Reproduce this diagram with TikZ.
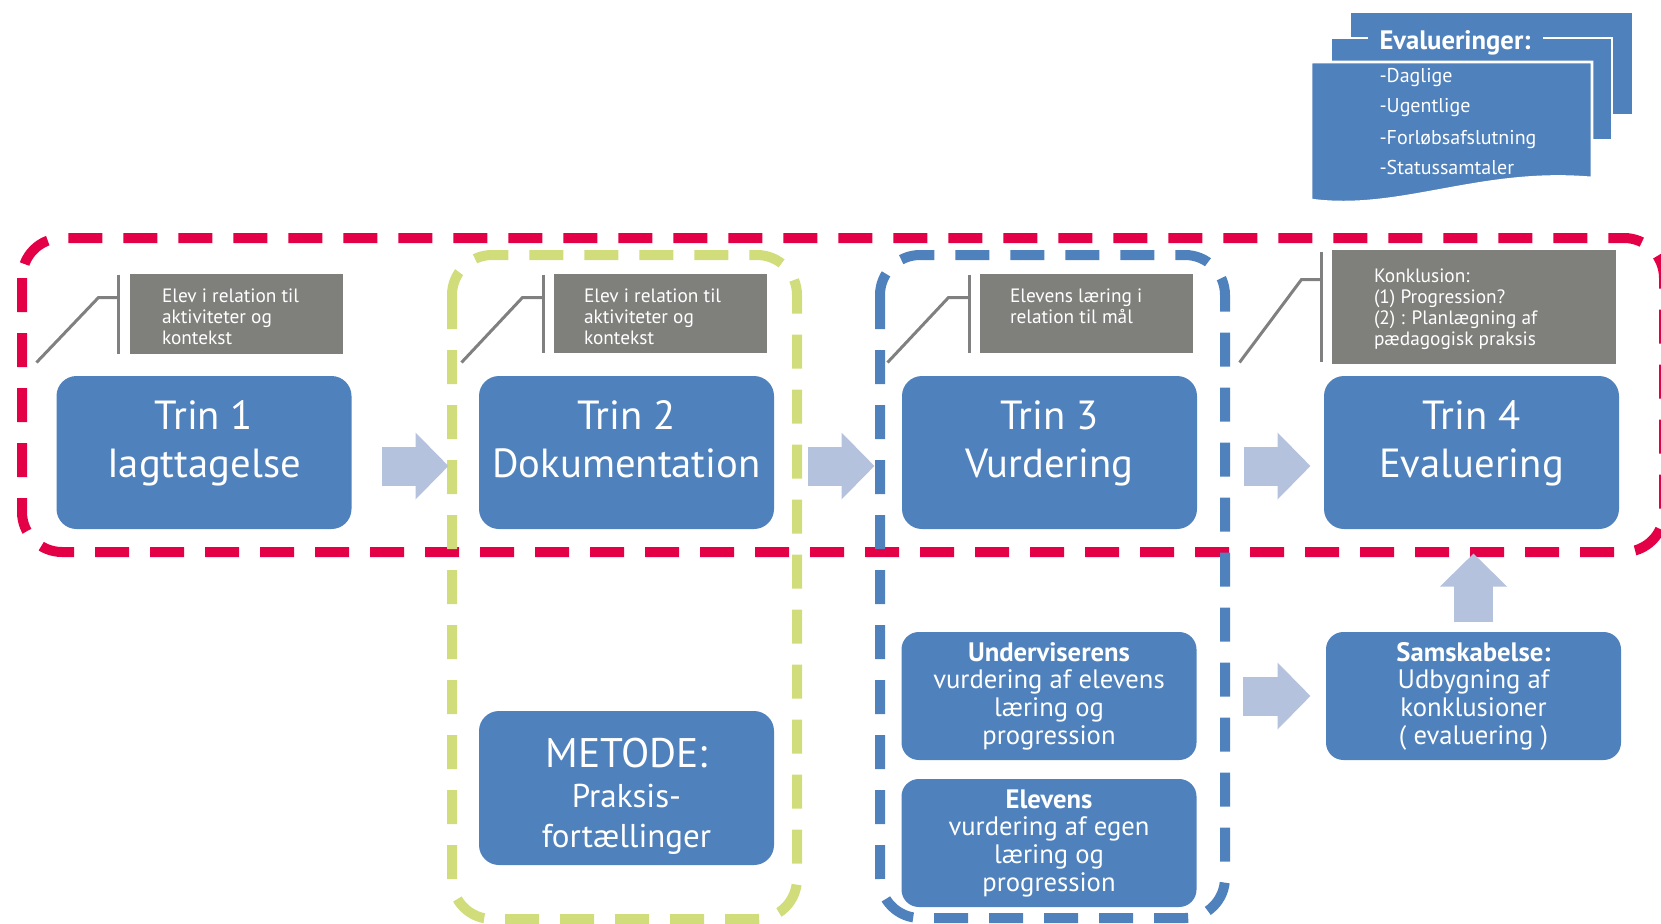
\documentclass[tikz,border=0pt]{standalone}
\usepackage{fontspec}
\setmainfont{PT Sans}
\usetikzlibrary{arrows.meta,calc}

\definecolor{boxblue}{RGB}{79,129,189}
\definecolor{notegray}{RGB}{127,128,124}
\definecolor{linegray}{RGB}{128,128,128}
\definecolor{arrowblue}{RGB}{180,194,222}
\definecolor{framered}{RGB}{228,0,70}
\definecolor{framegreen}{RGB}{209,220,122}

\tikzset{every picture/.style={line width=0.75pt}}
\tikzset{
  dashframe/.style={line width=7.5pt, rounded corners=30pt, dash pattern=on 25.5pt off 15.75pt},
  blockbase/.style={fill=boxblue, text=white, align=center, inner sep=0pt, minimum width=221.25pt},
  trinbox/.style={blockbase, rounded corners=15pt, minimum height=114.75pt,
    font=\fontsize{30.5}{36}\selectfont, execute at end node={\rule[-20.5pt]{0pt}{0pt}}},
  metodebox/.style={blockbase, rounded corners=15pt, minimum height=115.5pt,
    font=\fontsize{24.75}{30}\selectfont},
  smallbox/.style={blockbase, rounded corners=13pt, minimum height=96pt,
    font=\fontsize{20}{20.75}\selectfont},
  notebox/.style={fill=notegray, inner sep=0pt},
  notetext/.style={text=white, align=left, inner sep=0pt, anchor=north west,
    font=\fontsize{14.5}{15.75}\selectfont},
  noteline/.style={draw=linegray, line width=2.25pt},
  blockarrow/.style={draw=arrowblue, line width=29.25pt, -{Triangle[length=24.75pt,width=48.75pt]}},
  docpage/.style={fill=boxblue, draw=white, line width=2pt},
  evaltext/.style={text=white, inner sep=0pt, anchor=base west, font=\fontsize{15}{18}\selectfont}
}

\begin{document}
\begin{tikzpicture}[x=0.75pt,y=0.75pt,yscale=-1,xscale=1]
\path[use as bounding box] (0,0) rectangle (1661,924);

%Shape: Document stack
\draw[docpage] (1350,12) rectangle (1633,115);
\draw[docpage] (1331,38) rectangle (1612,140);
\draw[docpage] (1311,62) -- (1592,62) -- (1592,178) .. controls (1480,168) and (1400,212) .. (1311,200) -- cycle;
% Text Node
\node[evaltext, font=\fontsize{20}{22}\selectfont\bfseries, fill=boxblue, inner xsep=9pt, inner ysep=2pt] (evtitle) at (1367,50) {Evalueringer:};
\node[evaltext] (evday) at (1379,83) {-Daglige};
\node[evaltext] (evweek) at (1379,113) {-Ugentlige};
\node[evaltext] (evend) at (1379,144) {-Forløbsafslutning};
\node[evaltext] (evstatus) at (1379,175) {-Statussamtaler};

%Rounded Rect: dashed frames
\draw[dashframe, draw=framered] (22,238) rectangle (1664,552);
\draw[dashframe, draw=framegreen] (452,255) rectangle (797,919);
\draw[dashframe, draw=boxblue] (880,255) rectangle (1225,918);

%Rounded Rect: steps
\node[trinbox] (trin1) at (204,452.5) {Trin 1\\Iagttagelse};
\node[trinbox] (trin2) at (626.5,452.5) {Trin 2\\Dokumentation};
\node[trinbox] (trin3) at (1049.5,452.5) {Trin 3\\Vurdering};
\node[trinbox] (trin4) at (1471.5,452.5) {Trin 4\\Evaluering};

\node[metodebox] (metode) at (626.5,788) {\rule{0pt}{35pt}{\fontsize{31}{30}\selectfont METODE:}\\Praksis-\\fortællinger};
\node[smallbox] (undv) at (1049,696) {\textbf{Underviserens}\\vurdering af elevens\\læring og\\progression};
\node[smallbox] (elev) at (1049,843) {\textbf{Elevens}\\vurdering af egen\\læring og\\progression};
\node[smallbox] (sam) at (1473.5,696) {\textbf{Samskabelse:}\\Udbygning af\\konklusioner\\( evaluering )};

%Rect: notes
\node[notebox, minimum width=159.75pt, minimum height=60pt] (note1) at (236.5,314) {};
\node[notebox, minimum width=159.75pt, minimum height=59.25pt] (note2) at (660.5,313.5) {};
\node[notebox, minimum width=159.75pt, minimum height=59.25pt] (note3) at (1086.5,313.5) {};
\node[notebox, minimum width=213pt, minimum height=85.5pt] (note4) at (1474,307) {};

% Text Node
\node[notetext] (note1txt) at ($(note1.north west)+(32,15)$) {Elev i relation til\\aktiviteter og\\kontekst};
\node[notetext] (note2txt) at ($(note2.north west)+(30,15)$) {Elev i relation til\\aktiviteter og\\kontekst};
\node[notetext] (note3txt) at ($(note3.north west)+(30,15)$) {Elevens læring i\\relation til mål};
\node[notetext] (note4txt) at ($(note4.north west)+(42,19)$) {Konklusion:\\(1) Progression?\\(2) : Planlægning af\\pædagogisk praksis};

%Straight Lines: callouts
\draw[noteline] ($(note1.north west)+(-11,1)$) -- ($(note1.south west)+(-11,-1)$);
\draw[noteline] ($(note1.north west)+(-11,24)$) -- ++(-20,0) -- ++(-62,65);
\draw[noteline] ($(note2.north west)+(-10,1)$) -- ($(note2.south west)+(-10,-1)$);
\draw[noteline] ($(note2.north west)+(-10,24)$) -- ++(-21,0) -- ++(-61,65);
\draw[noteline] ($(note3.north west)+(-10,1)$) -- ($(note3.south west)+(-10,-1)$);
\draw[noteline] ($(note3.north west)+(-10,24)$) -- ++(-21,0) -- ++(-61,65);
\draw[noteline] ($(note4.north west)+(-10,2)$) -- ($(note4.south west)+(-10,-3)$);
\draw[noteline] ($(note4.north west)+(-10,30)$) -- ++(-20,0) -- ++(-62,83);

%Right Arrows
\draw[blockarrow, shorten <=22.5pt, shorten >=22.5pt] ($(trin1.east)+(0,13.5)$) -- ($(trin2.west)+(0,13.5)$);
\draw[blockarrow, shorten <=24.75pt, shorten >=20.25pt] ($(trin2.east)+(0,13.5)$) -- ($(trin3.west)+(0,13.5)$);
\draw[blockarrow, shorten <=34.5pt, shorten >=9.75pt] ($(trin3.east)+(0,13.5)$) -- ($(trin4.west)+(0,13.5)$);
\draw[blockarrow, shorten <=34.5pt, shorten >=11.25pt] (undv.east) -- (sam.west);
%Up Arrow
\draw[blockarrow, shorten <=7.5pt, shorten >=18pt] (sam.north) -- (sam.north |- trin4.south);

\end{tikzpicture}
\end{document}
